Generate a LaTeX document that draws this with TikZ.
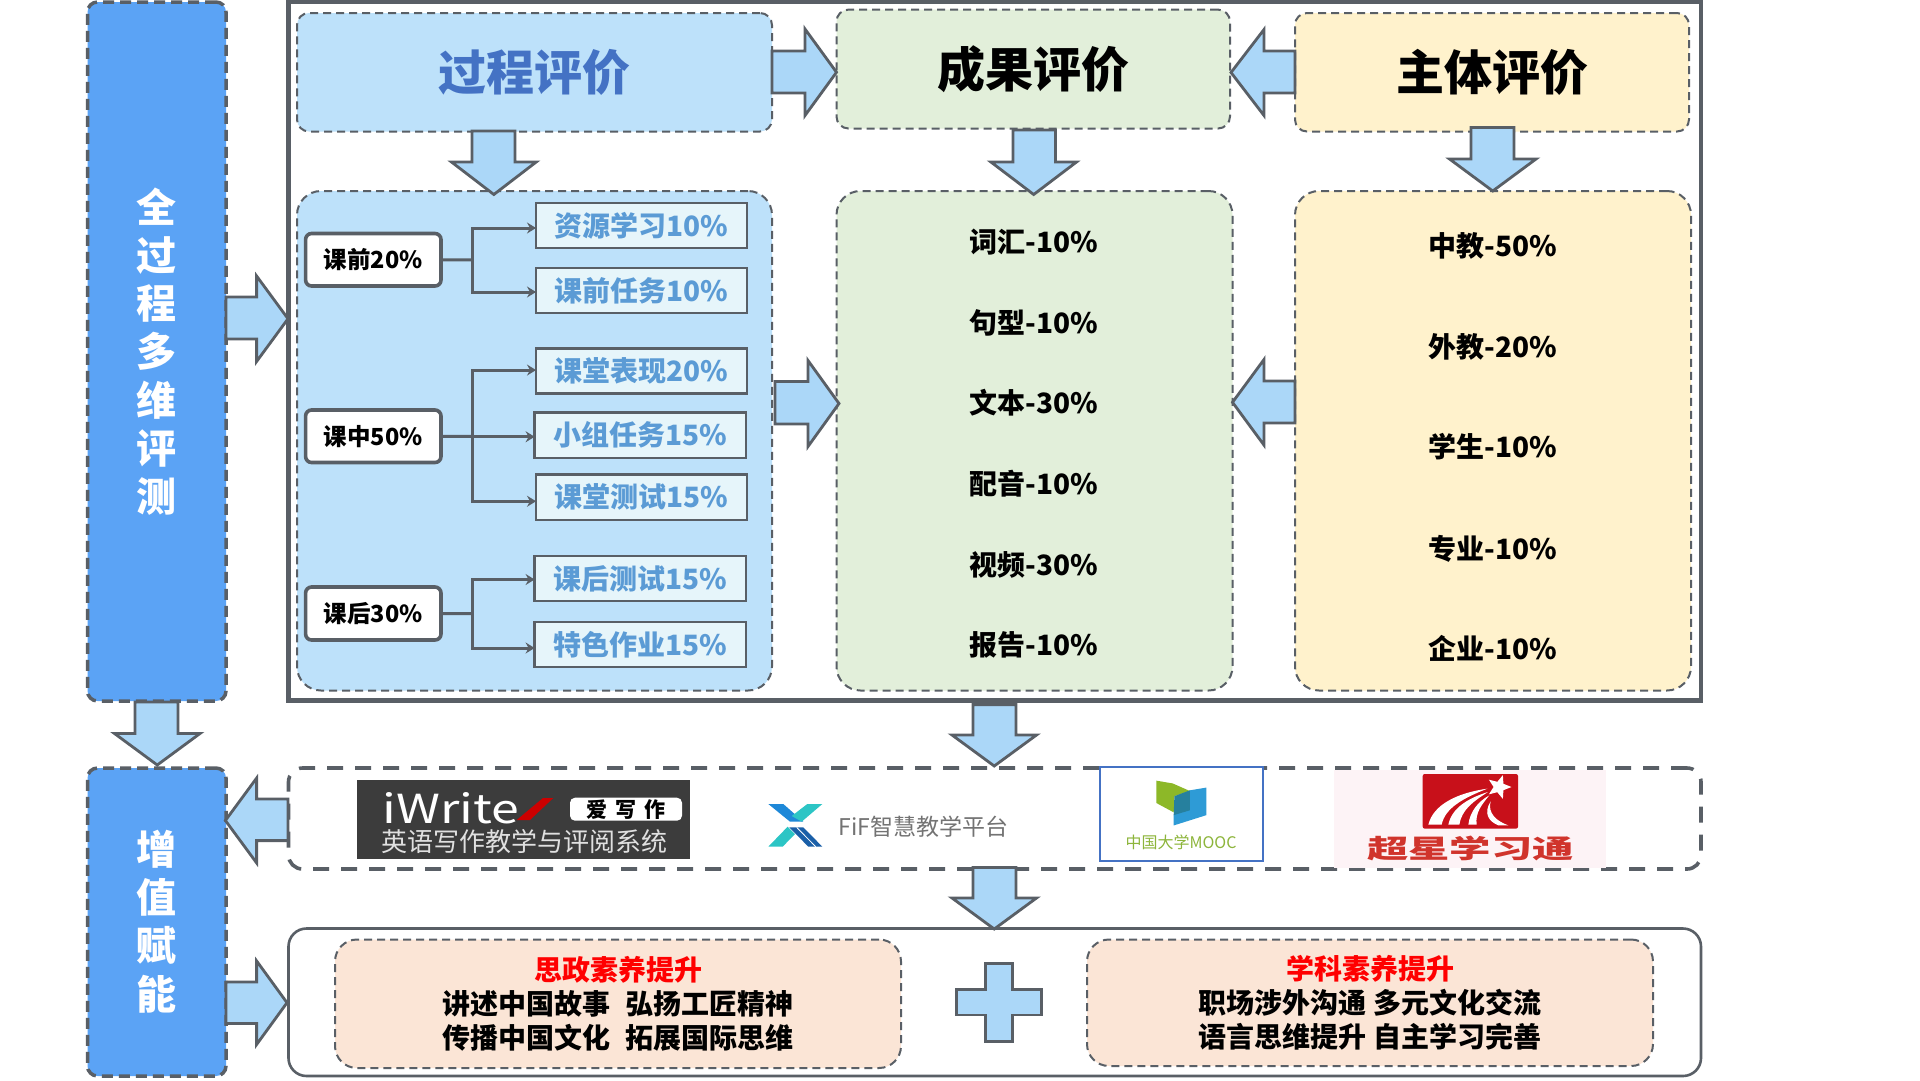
\documentclass[tikz,border=0pt]{standalone}
\usepackage{fontspec}
\setmainfont{Noto Sans CJK SC}
\usetikzlibrary{arrows.meta,shapes.geometric}
\definecolor{edge}{HTML}{595F66}
\definecolor{sideblue}{HTML}{5BA3F5}
\definecolor{lightblue}{HTML}{BDE1FA}
\definecolor{arrowblue}{HTML}{ABD7F8}
\definecolor{itemfill}{HTML}{E6F5FA}
\definecolor{itemtext}{HTML}{5B9BD5}
\definecolor{headblue}{HTML}{4472C4}
\definecolor{lightgreen}{HTML}{E2EFDA}
\definecolor{lightyellow}{HTML}{FFF2CC}
\definecolor{salmon}{HTML}{FBE5D6}
\definecolor{cxred}{HTML}{C8101A}
\tikzset{
  every node/.style={inner sep=0pt,outer sep=0pt},
  softbox/.style={draw=edge,line width=2pt,dash pattern=on 8pt off 5pt,rounded corners=#1},
  sidebox/.style={draw=edge,fill=sideblue,line width=3.5pt,dash pattern=on 11pt off 6pt,rounded corners=10pt},
  keybox/.style={draw=edge,fill=white,line width=3.6pt,rounded corners=6pt,font=\fontsize{23.5}{28}\selectfont\bfseries},
  itembox/.style={draw=edge,fill=itemfill,line width=2.4pt,text=itemtext,font=\fontsize{28}{34}\selectfont\bfseries},
  item/.style={font=\fontsize{28}{34}\selectfont\bfseries,text=black},
  side/.style={align=center,text=white,font=\fontsize{40}{48.2}\selectfont\bfseries},
  conn/.style={draw=edge,line width=3pt},
  connarrow/.style={conn,-{Stealth[length=9pt,width=11pt,inset=3pt]}},
  bigarrow/.style={draw=edge,fill=arrowblue,line width=2.8pt,line join=miter},
  twolines/.style={align=center,font=\fontsize{28}{33.8}\selectfont\bfseries},
}
% a node whose outline runs through the box (x1,y1)-(x2,y2)
\newcommand{\boxnode}[7][]{\node[#2,#1,minimum width={(#6)-(#4)},minimum height={(#7)-(#5)}] (#3) at ({((#4)+(#6))/2},{((#5)+(#7))/2})}
% horizontal block arrow: start, head base, tip, body top/bottom, head top/bottom
\newcommand{\hblock}[7]{\draw[bigarrow] (#1,#4) -- (#2,#4) -- (#2,{(#6)+1.5}) -- (#3,{((#6)+(#7))/2}) -- (#2,{(#7)-1.5}) -- (#2,#5) -- (#1,#5) -- cycle;}
% vertical block arrow: start, head base, tip, body left/right, head left/right
\newcommand{\vblock}[7]{\draw[bigarrow] (#4,#1) -- (#4,#2) -- ({(#6)+1.5},#2) -- ({((#6)+(#7))/2},#3) -- ({(#7)-1.5},#2) -- (#5,#2) -- (#5,#1) -- cycle;}
\begin{document}
\begin{tikzpicture}[x=1pt,y=-1pt]
\useasboundingbox (0,0) rectangle (1920,1080);
\fill[white] (0,0) rectangle (1920,1080);

% frames
\boxnode[draw=edge,line width=4.4pt]{rectangle}{mainframe}{288.5}{2}{1701}{700.5}{};
\boxnode[draw=edge,line width=3.6pt,dash pattern=on 16pt off 12pt,rounded corners=14pt]{rectangle}{platforms}{288.5}{768}{1701}{869}{};
\boxnode[draw=edge,line width=2.6pt,rounded corners=18pt]{rectangle}{outcomes}{288.5}{928.5}{1701}{1076}{};

% side columns
\boxnode{sidebox}{sidetop}{87.5}{2}{226}{701}{};
\node[side] (sidetoptext) at (156,351.5) {全\\过\\程\\多\\维\\评\\测};
\boxnode{sidebox}{sidebot}{87.5}{768}{226}{1076}{};
\node[side] (sidebottext) at (156,921.5) {增\\值\\赋\\能};

% header boxes
\boxnode[fill=lightblue,text=headblue,font=\fontsize{48}{56}\selectfont\bfseries]{softbox=12pt}{hproc}{297}{13}{772}{131.5}{过程评价};
\boxnode[fill=lightgreen,font=\fontsize{48}{56}\selectfont\bfseries]{softbox=12pt}{hres}{836.5}{9.6}{1230}{128.5}{成果评价};
\boxnode[fill=lightyellow,font=\fontsize{48}{56}\selectfont\bfseries]{softbox=12pt}{hsub}{1295}{13}{1689}{131.5}{主体评价};

% body boxes
\boxnode[fill=lightblue]{softbox=24pt}{bproc}{297}{191}{772}{690.5}{};
\boxnode[fill=lightgreen]{softbox=24pt}{bres}{836.5}{191}{1232.5}{690.5}{};
\boxnode[fill=lightyellow]{softbox=24pt}{bsub}{1295}{191}{1691}{690.5}{};

% process column
\boxnode{keybox}{k1}{305.6}{233.5}{441}{286}{课前20\%};
\boxnode{keybox}{k2}{305.6}{410}{441}{462.5}{课中50\%};
\boxnode{keybox}{k3}{305.6}{587}{441}{640}{课后30\%};
\boxnode{itembox}{i1}{536}{203}{747}{248}{资源学习10\%};
\boxnode{itembox}{i2}{536}{268}{747}{313}{课前任务10\%};
\boxnode{itembox}{i3}{536}{348.5}{747}{393.6}{课堂表现20\%};
\boxnode{itembox}{i4}{534.6}{412.5}{746}{458}{小组任务15\%};
\boxnode{itembox}{i5}{536}{474.5}{747}{520}{课堂测试15\%};
\boxnode{itembox}{i6}{534.6}{556}{746}{601}{课后测试15\%};
\boxnode{itembox}{i7}{534.6}{622}{746}{667}{特色作业15\%};
\coordinate (t1) at (472,260);
\coordinate (t2) at (472,436.5);
\coordinate (t3) at (472,613.7);
\draw[conn] (k1.east) -- (t1);
\draw[connarrow] (t1) |- ([yshift=-2.5pt]i1.west);
\draw[connarrow] (t1) |- ([yshift=-1.5pt]i2.west);
\draw[conn] (k2.east) -- (t2);
\draw[connarrow] (t2) |- ([yshift=1pt]i3.west);
\draw[connarrow] (t2) |- ([yshift=-1.5pt]i4.west);
\draw[connarrow] (t2) |- ([yshift=-4pt]i5.west);
\draw[conn] (k3.east) -- (t3);
\draw[connarrow] (t3) |- ([yshift=-1pt]i6.west);
\draw[connarrow] (t3) |- ([yshift=-3.5pt]i7.west);

% result column
\node[item] (r1) at (1034,242) {词汇-10\%};
\node[item] (r2) at (1034,322.7) {句型-10\%};
\node[item] (r3) at (1034,403) {文本-30\%};
\node[item] (r4) at (1034,484) {配音-10\%};
\node[item] (r5) at (1034,565) {视频-30\%};
\node[item] (r6) at (1034,645) {报告-10\%};

% subject column
\node[item] (s1) at (1493,245.5) {中教-50\%};
\node[item] (s2) at (1493,347) {外教-20\%};
\node[item] (s3) at (1493,447) {学生-10\%};
\node[item] (s4) at (1493,548.6) {专业-10\%};
\node[item] (s5) at (1493,648.5) {企业-10\%};

% block arrows
\hblock{226}{256.6}{288}{297}{339}{274.5}{363}
\hblock{772}{805}{836.5}{51}{93}{27.5}{117}
\hblock{1295}{1264}{1231}{51}{93}{28}{117}
\hblock{775}{808}{839}{381.5}{424}{359}{448}
\hblock{1295}{1264}{1232.5}{381}{423}{358}{446.6}
\vblock{131}{162}{194.5}{472}{515}{450}{537.7}
\vblock{130}{162}{194.5}{1013}{1055.5}{989.4}{1078}
\vblock{127.4}{159}{191}{1471}{1514}{1448}{1537.5}
\vblock{702}{733.5}{765}{135}{178}{113}{201.5}
\vblock{704.6}{735}{766}{973}{1016}{950.5}{1038}
\vblock{867.5}{898}{929}{973}{1016}{950.5}{1038}
\hblock{288}{256.6}{225.4}{799}{840.6}{776.6}{864.4}
\hblock{226}{256.6}{287}{982}{1023.5}{959.4}{1046}

% iWrite logo
\fill[fill={rgb,255:red,60;green,60;blue,60}] (357,780) rectangle (690,858.7);
\node[text=white,font=\fontsize{40}{44}\selectfont,xscale=1.25] (iwrite) at (451,808) {iWrite};
\fill[red!80!black] (516.7,820) -- (530,820) -- (553.3,798) -- (543,798) -- cycle;
\node[fill=white,rounded corners=5pt,minimum width=112pt,minimum height=23pt,font=\fontsize{21}{24}\selectfont\bfseries] (aixie) at (626,809.2) {爱\hspace{8pt}写\hspace{8pt}作};
\node[text=black!12,font=\fontsize{26}{30}\selectfont] (isub) at (524,841.7) {英语写作教学与评阅系统};

% FiF logo
\begin{scope}[shift={(750,790)},x=0.3333pt,y=-0.3333pt]
\fill[fill={rgb,255:red,30;green,136;blue,216}] (55,42) -- (100,42) -- (160,95) -- (120,95) -- cycle;
\fill[fill={rgb,255:red,44;green,197;blue,197}] (172,42) -- (217,42) -- (155,95) -- (125,78) -- cycle;
\fill[fill={rgb,255:red,44;green,197;blue,197}] (55,170) -- (98,170) -- (135,132) -- (113,110) -- cycle;
\fill[fill={rgb,255:red,26;green,95;blue,168}] (118,112) -- (160,112) -- (217,170) -- (175,170) -- cycle;
\draw[white,line width=0.8pt] (140,112) -- (197,170);
\end{scope}
\node[text=black!55,font=\fontsize{23}{28}\selectfont] (fif) at (923.5,826.5) {FiF智慧教学平台};

% MOOC logo
\node[draw=headblue,fill=white,line width=2pt,minimum width=163.4pt,minimum height=94pt] (mooc) at (1181.3,814) {};
\begin{scope}[shift={(1090,760)},x=0.3444pt,y=-0.3444pt]
\fill[fill={rgb,255:red,141;green,184;blue,40}] (193,60) -- (240,68) -- (290,90) -- (245,105) -- (243,152) -- (193,125) -- cycle;
\fill[fill={rgb,255:red,46;green,155;blue,214}] (290,88) -- (338,80) -- (338,160) -- (243,190) -- (243,160) -- cycle;
\fill[fill={rgb,255:red,38;green,128;blue,158}] (245,105) -- (290,88) -- (290,146) -- (243,160) -- cycle;
\end{scope}
\node[text={rgb,255:red,141;green,181;blue,59},font=\fontsize{16}{20}\selectfont] (mooctext) at (1181,842.5) {中国大学MOOC};

% Chaoxing logo
\fill[fill={rgb,255:red,253;green,243;blue,246}] (1334,769.5) rectangle (1606,867.5);
\fill[cxred,rounded corners=2pt] (1422.7,774) rectangle (1518,828.6);
\begin{scope}[shift={(1400,768)},x=0.3333pt,y=-0.3333pt]
\fill[white] (85,170) .. controls (100,110) and (170,75) .. (262,62) .. controls (190,90) and (135,120) .. (125,170) -- cycle;
\fill[white] (145,170) .. controls (155,120) and (205,90) .. (264,72) .. controls (220,100) and (185,125) .. (178,170) -- cycle;
\fill[white] (205,170) .. controls (210,130) and (235,100) .. (268,82) .. controls (245,110) and (225,135) .. (230,170) -- cycle;
\fill[white] (295,172) .. controls (265,160) and (250,135) .. (272,100) .. controls (262,135) and (290,160) .. (325,172) -- cycle;
\end{scope}
\node[star,star points=5,star point ratio=2.3,fill=white,minimum size=25pt,rotate=-18] (cxstar) at (1499,787) {};
\node[text={rgb,255:red,208;green,52;blue,44},font=\fontsize{26}{30}\selectfont\bfseries,xscale=1.59] (cxtext) at (1470.5,848) {超星学习通};

% outcomes
\boxnode[fill=salmon,twolines]{softbox=22pt}{moral}{335}{939.5}{901}{1068}{{\color{red}思政素养提升}\\讲述中国故事\hspace{16pt}弘扬工匠精神\\传播中国文化\hspace{16pt}拓展国际思维};
\boxnode[fill=salmon,twolines]{softbox=22pt}{subject}{1087}{939.5}{1653}{1066}{{\color{red}学科素养提升}\\职场涉外沟通\hspace{8pt}多元文化交流\\语言思维提升\hspace{8pt}自主学习完善};
\draw[bigarrow] (985.7,963.5) -- (1012.7,963.5) -- (1012.7,989.7) -- (1041.4,989.7) -- (1041.4,1015) -- (1012.7,1015) -- (1012.7,1041.7) -- (985.7,1041.7) -- (985.7,1015) -- (956.5,1015) -- (956.5,989.7) -- (985.7,989.7) -- cycle;
\end{tikzpicture}
\end{document}
